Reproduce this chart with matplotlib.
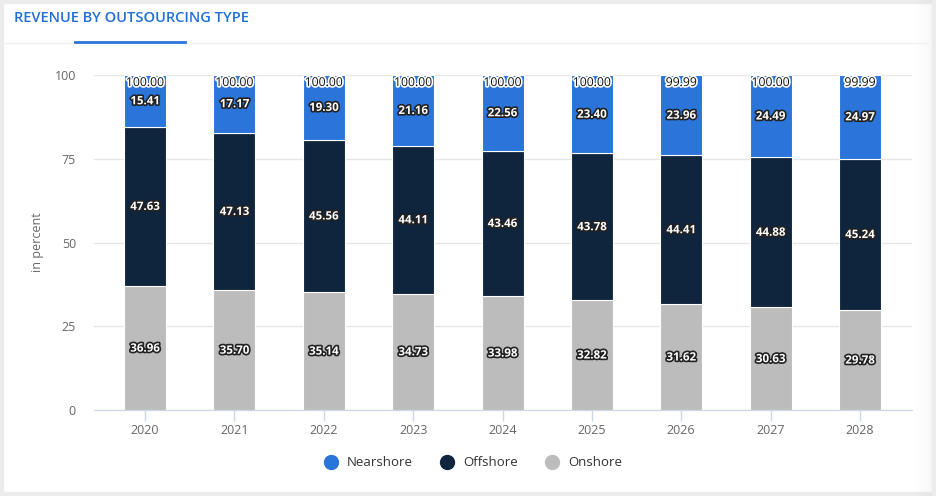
import matplotlib.pyplot as plt
import matplotlib.patheffects as pe
from matplotlib.patches import Rectangle
from matplotlib.lines import Line2D
import numpy as np

years = ["2020", "2021", "2022", "2023", "2024", "2025", "2026", "2027", "2028"]
nearshore = [15.41, 17.17, 19.30, 21.16, 22.56, 23.40, 23.96, 24.49, 24.97]
offshore = [47.63, 47.13, 45.56, 44.11, 43.46, 43.78, 44.41, 44.88, 45.24]
onshore = [36.96, 35.70, 35.14, 34.73, 33.98, 32.82, 31.62, 30.63, 29.78]
totals = ["100.00", "100.00", "100.00", "100.00", "100.00", "100.00", "99.99", "100.00", "99.99"]

c_near = "#2a74da"
c_off = "#0f243d"
c_on = "#bcbcbc"

plt.rcParams['font.family'] = ['Open Sans', 'DejaVu Sans']

W, H = 936, 496
fig = plt.figure(figsize=(W / 100, H / 100), dpi=100)
fig.patch.set_facecolor("white")

# card frame
fig.patches.append(Rectangle((0, 0), 1, 1, transform=fig.transFigure,
                             facecolor="none", edgecolor="#ececec", linewidth=6))
for i, a in enumerate(np.linspace(0.0, 0.06, 12)):
    fig.patches.append(Rectangle(((914 + i * 1.5) / W, 0), 1.5 / W, 1,
                                 transform=fig.transFigure, facecolor="#8090a0",
                                 alpha=a, edgecolor="none"))

# header
fig.text(14 / W, 1 - 18 / H, "REVENUE BY OUTSOURCING TYPE", color="#1f6fd8",
         fontsize=10.5, fontweight="semibold", va="center", ha="left")
fig.lines.append(Line2D([5 / W, 928 / W], [1 - 43 / H] * 2, transform=fig.transFigure,
                        color="#eef0f4", linewidth=1))
fig.lines.append(Line2D([75 / W, 185 / W], [1 - 42 / H] * 2, transform=fig.transFigure,
                        color="#2a74da", linewidth=2))

ax = fig.add_axes([94 / W, 1 - 410 / H, (912 - 94) / W, (410 - 75) / H])
x = np.arange(len(years))
bw = 0.47

on = np.array(onshore)
off = np.array(offshore)
near = np.array(nearshore)

ax.bar(x, on, bw, color=c_on, edgecolor="white", linewidth=0.8, zorder=3)
ax.bar(x, off, bw, bottom=on, color=c_off, edgecolor="white", linewidth=0.8, zorder=3)
ax.bar(x, near, bw, bottom=on + off, color=c_near, edgecolor="white", linewidth=0.8, zorder=3)

seg_fx = [pe.withStroke(linewidth=2.4, foreground="#222222")]
tot_fx = [pe.withStroke(linewidth=2.4, foreground="white")]
for i in range(len(years)):
    for val, base in ((on[i], 0), (off[i], on[i]), (near[i], on[i] + off[i])):
        ax.text(x[i], base + val / 2, f"{val:.2f}", ha="center", va="center",
                color="white", fontsize=8.3, fontweight="bold", path_effects=seg_fx, zorder=5)
    ax.text(x[i], 99.7, totals[i], ha="center", va="top", color="#111111",
            fontsize=8.8, path_effects=tot_fx, zorder=5)

ax.set_xlim(-0.571, 8.582)
ax.set_ylim(0, 100)
ax.set_yticks([0, 25, 50, 75, 100])
ax.set_xticks(x)
ax.set_xticklabels(years)
ax.tick_params(axis="y", length=0, pad=13, labelsize=9, labelcolor="#666666")
ax.tick_params(axis="x", length=8, width=1, color="#ccd6eb", pad=2,
               labelsize=9, labelcolor="#666666")
ax.grid(axis="y", color="#e6e6e6", linewidth=1, zorder=0)
for s in ("top", "right", "left"):
    ax.spines[s].set_visible(False)
ax.spines["bottom"].set_color("#ccd6eb")
ax.spines["bottom"].set_zorder(4)
ax.set_ylabel("in percent", color="#666666", fontsize=9)
ax.yaxis.set_label_coords(-(94 - 44) / (912 - 94), 0.5)

handles = [Line2D([], [], marker="o", linestyle="none", markersize=10, color=c)
           for c in (c_near, c_off, c_on)]
fig.legend(handles, ["Nearshore", "Offshore", "Onshore"], loc="center",
           bbox_to_anchor=(470 / W, 1 - 463 / H), ncol=3, frameon=False,
           fontsize=9.5, labelcolor="#333333", handletextpad=0.2, columnspacing=1.6)

fig.savefig("out.png", dpi=100)
